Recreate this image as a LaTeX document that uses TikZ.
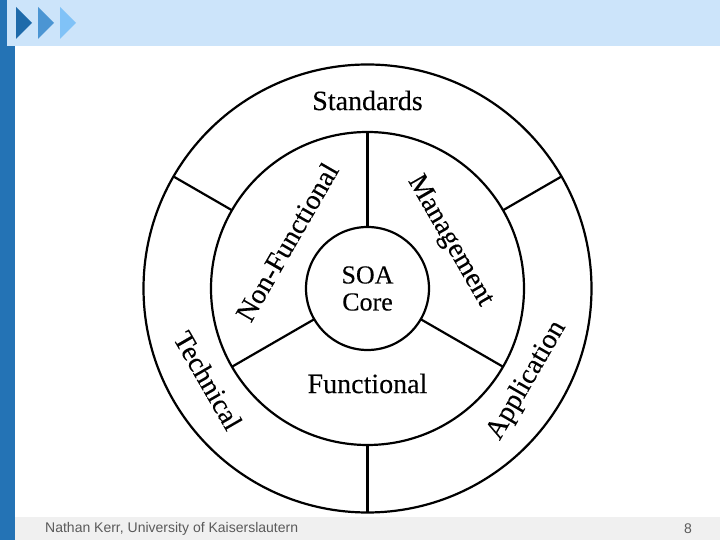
\documentclass[tikz,border=0pt]{standalone}
\usepackage{fontspec}
\setmainfont{Liberation Serif}
\newfontfamily\wheelfont{Liberation Serif}[FakeBold=0.2]
\newfontfamily\footfont{Liberation Sans}
\usetikzlibrary{positioning}
\definecolor{bannerblue}{HTML}{CCE4FA}
\definecolor{barblue}{HTML}{2473B5}
\definecolor{tridark}{HTML}{1E6AAA}
\definecolor{trimid}{HTML}{4B95D3}
\definecolor{trilight}{HTML}{80C2F7}
\definecolor{footgrey}{HTML}{F0F0F0}
\definecolor{foottext}{HTML}{5A5A5A}

\begin{document}
\begin{tikzpicture}[x=1pt, y=1pt,
    ring/.style={circle, draw, line width=2.2pt, outer sep=0pt, inner sep=0pt},
    divider/.style={line width=2.2pt},
    ringtext/.style={font=\wheelfont\fontsize{28}{30}\selectfont, inner sep=0pt},
    foottxt/.style={font=\footfont\fontsize{14}{16}\selectfont, text=foottext, inner sep=0pt},
  ]
    \useasboundingbox (0,0) rectangle (720,540);
    % slide frame
    \fill[barblue] (0,0) rectangle (15,540);
    \fill[bannerblue] (7,494) rectangle (720,540);
    \fill[footgrey] (15,0) rectangle (720,23);
    \fill[tridark] (16,533) -- (32,517) -- (16,501) -- cycle;
    \fill[trimid] (38,533) -- (54,517) -- (38,501) -- cycle;
    \fill[trilight] (60,533) -- (76,517) -- (60,501) -- cycle;
    \node[foottxt, anchor=west] (author) at (45,11) {Nathan Kerr, University of Kaiserslautern};
    \node[foottxt] (page) at (688,11) {8};

    % the wheel
    \begin{scope}[shift={(367.5,251.5)}]
      \node[ring, minimum size=448pt] (outer) at (0,0) {};
      \node[ring, minimum size=313pt] (mid) at (0,0) {};
      \node[ring, minimum size=123pt, align=center, font=\wheelfont\fontsize{26}{27}\selectfont] (core) at (0,0) {SOA\\Core};

      \draw[divider] (core.90) -- (mid.90);
      \draw[divider] (core.210) -- (mid.210);
      \draw[divider] (core.330) -- (mid.330);
      \draw[divider] (mid.30) -- (outer.30);
      \draw[divider] (mid.150) -- (outer.150);
      \draw[divider] (mid.270) -- (outer.270);

      \node[ringtext, rotate=-60] (management) at (30:95) {Management};
      \node[ringtext, rotate=60] (nonfunc) at (150:93) {Non-Functional};
      \node[ringtext] (functional) at (270:95) {Functional};

      \node[ringtext] (standards) at (90:188) {Standards};
      \node[ringtext, rotate=-60] (technical) at (210:184) {Technical};
      \node[ringtext, rotate=60] (application) at (330:184) {Application};
    \end{scope}
  \end{tikzpicture}
\end{document}
